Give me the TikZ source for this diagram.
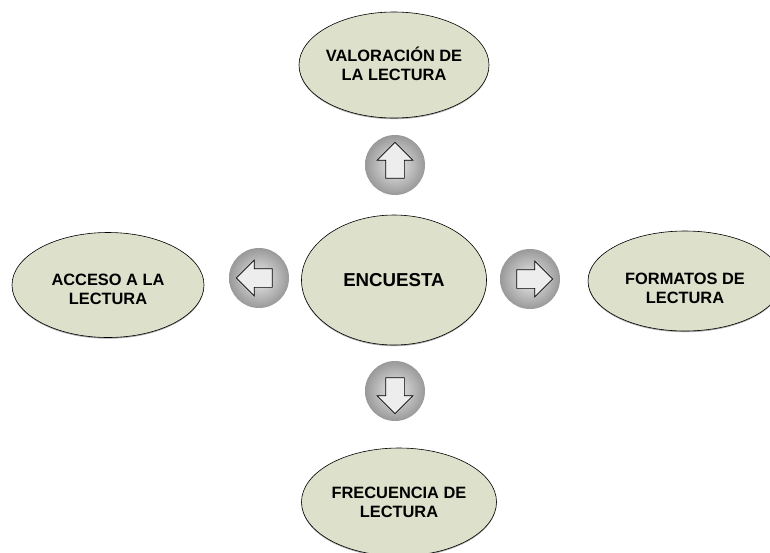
\documentclass[tikz,border=0pt]{standalone}
\usepackage{fontspec}
\setmainfont{Liberation Sans}
\usetikzlibrary{shapes.geometric,shapes.arrows,shadows}
\definecolor{elfill}{RGB}{221,224,203}
\tikzset{
  blob/.style={ellipse, draw=black, line width=0.6pt, fill=elfill, inner sep=0pt,
    drop shadow={shadow xshift=0pt, shadow yshift=-1.2pt, fill=black!55, opacity=.6}},
  lbl/.style={align=center, inner sep=0pt, font=\bfseries\fontsize{16.4}{19}\selectfont},
  knob/.style={circle, inner sep=0pt, minimum size=60pt, inner color=black!8, outer color=black!40},
  blockarrow/.style={single arrow, draw=black, line width=0.7pt, fill=black!7, inner sep=9pt,
    minimum height=36pt, minimum width=35pt, single arrow head extend=8.5pt,
    single arrow head indent=0pt}
}

\begin{document}
\begin{tikzpicture}[x=1pt,y=-1pt]
  \useasboundingbox (0,0) rectangle (770,552);
  % ellipses
  \node[blob, minimum width=190, minimum height=106] (val) at (394,65) {};
  \node[lbl] (val-t) at (394,64) {VALORACIÓN DE\\LA LECTURA};
  \node[blob, minimum width=192, minimum height=105] (acc) at (108,285) {};
  \node[lbl] (acc-t) at (108,289) {ACCESO A LA\\LECTURA};
  \node[blob, minimum width=185, minimum height=130] (enc) at (394,280) {};
  \node[lbl, font=\bfseries\fontsize{18.7}{21}\selectfont] (enc-t) at (enc) {ENCUESTA};
  \node[blob, minimum width=194, minimum height=100] (form) at (685,281) {};
  \node[lbl] (form-t) at (685,288) {FORMATOS DE\\LECTURA};
  \node[blob, minimum width=195, minimum height=108] (frec) at (399,502) {};
  \node[lbl] (frec-t) at (399,502) {FRECUENCIA DE\\LECTURA};
  % round buttons with block arrows
  \node[knob] (up) at (395,165) {};
  \node[blockarrow, shape border rotate=90] (up-a) at (up) {};
  \node[knob] (lt) at (259,278) {};
  \node[blockarrow, shape border rotate=180] (lt-a) at (lt) {};
  \node[knob] (rt) at (530,279) {};
  \node[blockarrow] (rt-a) at (rt) {};
  \node[knob] (dn) at (395,391) {};
  \node[blockarrow, shape border rotate=270] (dn-a) at (dn) {};
\end{tikzpicture}
\end{document}
